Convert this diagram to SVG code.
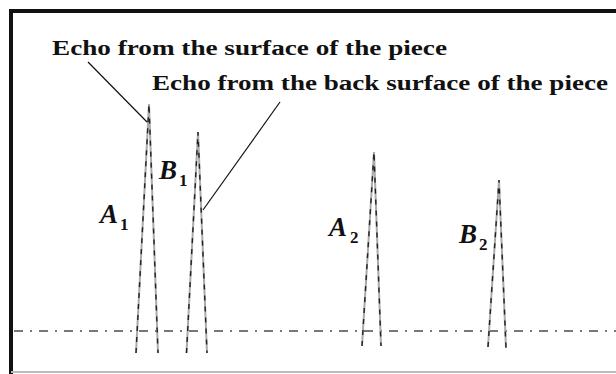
<svg xmlns="http://www.w3.org/2000/svg" width="616" height="374" viewBox="0 0 616 374">
<style>
.bg{fill:#fff}
.frame{stroke:#111;stroke-width:4;fill:none}
.bottom{stroke:#bbb;stroke-width:2}
.base{stroke:#777;stroke-width:2;stroke-dasharray:9,7,2,7;fill:none}
.peak{stroke:#aaa;stroke-width:2;fill:none;stroke-linejoin:miter}
.peakd{stroke:#222;stroke-width:1.4;fill:none;stroke-dasharray:5,6}
.lead{stroke:#111;stroke-width:1.2;fill:none}
.cap{font-family:"Liberation Serif","DejaVu Serif",serif;font-weight:bold;font-size:20px;fill:#111}
.lab{font-family:"Liberation Serif","DejaVu Serif",serif;font-weight:bold;font-style:italic;font-size:27px;fill:#111}
.sub{font-family:"Liberation Serif","DejaVu Serif",serif;font-weight:bold;font-size:17px;fill:#111}
</style>
<rect class="bg" x="0" y="0" width="616" height="374"/>
<g id="frame">
<path class="frame" d="M11,374 V11 H616"/>
<line class="bottom" x1="11" y1="372" x2="616" y2="372"/>
</g>
<g id="baseline">
<line class="base" x1="14" y1="331" x2="616" y2="331"/>
</g>
<g id="peak-A1">
<polyline class="peak" points="136,353 149,104 158,353"/>
<polyline class="peakd" points="136,353 149,104 158,353"/>
</g>
<g id="peak-B1">
<polyline class="peak" points="186.5,353 198,132 207,353"/>
<polyline class="peakd" points="186.5,353 198,132 207,353"/>
</g>
<g id="peak-A2">
<polyline class="peak" points="362,346 374,152 381,346"/>
<polyline class="peakd" points="362,346 374,152 381,346"/>
</g>
<g id="peak-B2">
<polyline class="peak" points="488,347 499,180 506,348"/>
<polyline class="peakd" points="488,347 499,180 506,348"/>
</g>
<g id="label-A1"><text class="lab" x="100" y="223">A</text><text class="sub" x="120" y="230">1</text></g>
<g id="label-B1"><text class="lab" x="159" y="179">B</text><text class="sub" x="179" y="186">1</text></g>
<g id="label-A2"><text class="lab" x="329" y="236">A</text><text class="sub" x="350" y="243">2</text></g>
<g id="label-B2"><text class="lab" x="459" y="243">B</text><text class="sub" x="479" y="250">2</text></g>
<g id="caption-surface"><text class="cap" x="52" y="55" textLength="395" lengthAdjust="spacingAndGlyphs">Echo from the surface of the piece</text></g>
<g id="caption-back"><text class="cap" x="152" y="90" textLength="456" lengthAdjust="spacingAndGlyphs">Echo from the back surface of the piece</text></g>
<g id="connectors">
<line class="lead" x1="88" y1="62" x2="147" y2="122"/>
<line class="lead" x1="280" y1="102" x2="203" y2="210"/>
</g>
</svg>
